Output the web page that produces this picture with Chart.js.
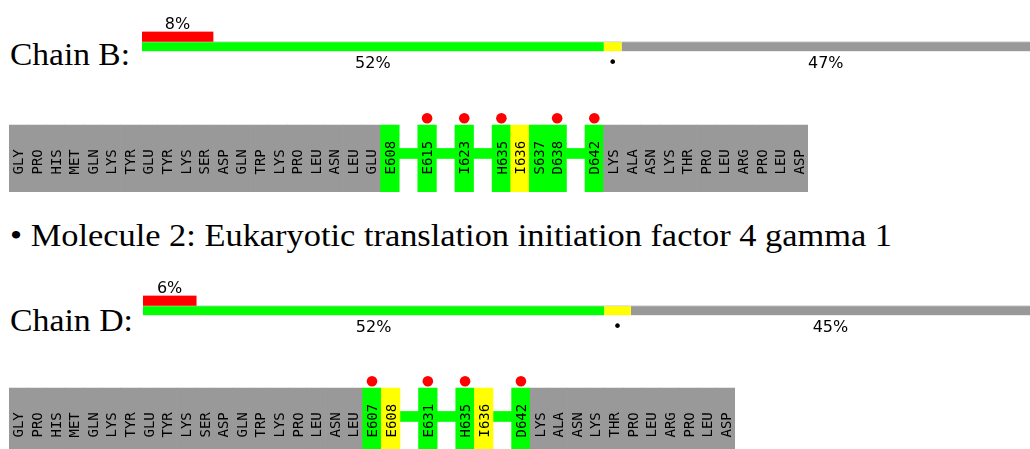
<!DOCTYPE html>
<html>
<head>
<meta charset="utf-8">
<script src="https://cdn.jsdelivr.net/npm/chart.js@4.4.1/dist/chart.umd.min.js"></script>
<style>
  html, body { margin: 0; padding: 0; background: #fff; }
  body { width: 1030px; height: 449px; overflow: hidden; position: relative; }
  canvas { position: absolute; }
  .serif {
    position: absolute; left: 10px; white-space: nowrap;
    font-family: "Liberation Serif", serif; font-size: 31px; line-height: 31px;
    color: #000; transform-origin: 0 0;
  }
</style>
</head>
<body>
<div class="serif" id="labelB" style="top:39px" data-w="120">Chain B:</div>
<canvas id="qualityB" width="888" height="80" style="left:142px; top:0px"></canvas>
<canvas id="stripB" width="799" height="87" style="left:9px; top:105px"></canvas>

<div class="serif" id="molecule2" style="top:220px" data-w="882">&bull; Molecule 2: Eukaryotic translation initiation factor 4 gamma 1</div>

<div class="serif" id="labelD" style="top:305px" data-w="123">Chain D:</div>
<canvas id="qualityD" width="887" height="70" style="left:143px; top:270px"></canvas>
<canvas id="stripD" width="726" height="87" style="left:9px; top:368px"></canvas>

<script>
// ---- data ----
const qualityRows = ["density", "quality"];

// chain B: % of residues with poor fit, then green / yellow / grey bar lengths
const chainBPoorFit = [8];
const chainBPoorFitLabels = ["8%"];
const chainBQuality = [52, 2, 46];
const chainBQualityLabels = ["52%", "\u2022", "47%"];

const chainDPoorFit = [6];
const chainDPoorFitLabels = ["6%"];
const chainDQuality = [52, 3, 45];
const chainDQualityLabels = ["52%", "\u2022", "45%"];

// residue strips, "" = break in the modelled chain
const chainBResidues = [
    "GLY", "PRO", "HIS", "MET", "GLN", "LYS", "TYR", "GLU", "TYR", "LYS",
    "SER", "ASP", "GLN", "TRP", "LYS", "PRO", "LEU", "ASN", "LEU", "GLU",
    "E608", "", "E615", "", "I623", "", "H635", "I636", "S637", "D638",
    "", "D642",
    "LYS", "ALA", "ASN", "LYS", "THR", "PRO", "LEU", "ARG", "PRO", "LEU", "ASP",
];
// u = unmodelled, g = no outliers, y = one outlier
const chainBStatus = [
    "u", "u", "u", "u", "u", "u", "u", "u", "u", "u",
    "u", "u", "u", "u", "u", "u", "u", "u", "u", "u",
    "g", "", "g", "", "g", "", "g", "y", "g", "g",
    "", "g",
    "u", "u", "u", "u", "u", "u", "u", "u", "u", "u", "u",
];
const chainBDensityOutliers = ["E615", "I623", "H635", "D638", "D642"];

const chainDResidues = [
    "GLY", "PRO", "HIS", "MET", "GLN", "LYS", "TYR", "GLU", "TYR", "LYS",
    "SER", "ASP", "GLN", "TRP", "LYS", "PRO", "LEU", "ASN", "LEU",
    "E607", "E608", "", "E631", "", "H635", "I636", "", "D642",
    "LYS", "ALA", "ASN", "LYS", "THR", "PRO", "LEU", "ARG", "PRO", "LEU", "ASP",
];
const chainDStatus = [
    "u", "u", "u", "u", "u", "u", "u", "u", "u", "u",
    "u", "u", "u", "u", "u", "u", "u", "u", "u",
    "g", "y", "", "g", "", "g", "y", "", "g",
    "u", "u", "u", "u", "u", "u", "u", "u", "u", "u", "u",
];
const chainDDensityOutliers = ["E607", "E631", "H635", "D642"];

// ---- styles ----
const RED = "#ff0000";
const GREEN = "#00ff00";
const YELLOW = "#ffff00";
const GREY = "#999999";
const statusColor = { u: GREY, g: GREEN, y: YELLOW };
const linkBand = [0.5, 0.65];
const dotLevel = 1.1;
const stripMax = 87 / 67;

// fit the serif headings to the width they have in the page
document.querySelectorAll(".serif").forEach((el) => {
    const w = el.getBoundingClientRect().width;
    el.style.transform = "scaleX(" + (Number(el.dataset.w) / w) + ")";
});

const pctLabels = {
    id: "pctLabels",
    afterDatasetsDraw(chart) {
        const ctx = chart.ctx;
        ctx.save();
        ctx.font = '16px "DejaVu Sans"';
        ctx.fillStyle = "#000";
        ctx.textAlign = "center";
        chart.data.datasets.forEach((ds, di) => {
            chart.getDatasetMeta(di).data.forEach((bar, i) => {
                if (ds.data[i] == null || !ds.pctText) return;
                const p = bar.getProps(["x", "y", "base", "height"], true);
                const cx = (p.x + p.base) / 2;
                const y = ds.above ? p.y - p.height / 2 - 3 : p.y + p.height / 2 + 16;
                ctx.fillText(ds.pctText, cx, y);
            });
        });
        ctx.restore();
    },
};

function qualityChart(id, poorFit, poorFitLabels, quality, qualityLabels, padTop, padBottom) {
    const colors = [GREEN, YELLOW, GREY];
    const datasets = [
        {
            data: [poorFit[0], null],
            backgroundColor: RED,
            pctText: poorFitLabels[0],
            above: true,
        },
    ];
    quality.forEach((v, i) => {
        datasets.push({
            data: [null, v],
            backgroundColor: colors[i],
            borderColor: "#cccccc",
            borderWidth: { top: 1, left: 0, right: 0, bottom: 0 },
            borderSkipped: false,
            pctText: qualityLabels[i],
        });
    });
    new Chart(document.getElementById(id), {
        type: "bar",
        data: { labels: qualityRows, datasets: datasets },
        options: {
            indexAxis: "y",
            responsive: false,
            animation: false,
            events: [],
            layout: { autoPadding: false, padding: { top: padTop, bottom: padBottom, left: 0, right: 0 } },
            datasets: { bar: { categoryPercentage: 1, barPercentage: 1 } },
            scales: {
                x: { display: false, stacked: true, min: 0, max: 100 },
                y: { display: false, stacked: true },
            },
            plugins: { legend: { display: false }, tooltip: { enabled: false } },
        },
        plugins: [pctLabels],
    });
}

const residueText = {
    id: "residueText",
    afterDatasetsDraw(chart) {
        const ctx = chart.ctx;
        const top = chart.scales.y.getPixelForValue(1);
        const names = chart.data.labels;
        ctx.save();
        ctx.font = '14px "DejaVu Sans Mono"';
        ctx.fillStyle = "#000";
        ctx.textAlign = "left";
        chart.getDatasetMeta(0).data.forEach((bar, i) => {
            if (!names[i]) return;
            ctx.save();
            ctx.translate(bar.x, top + 49.5);
            ctx.rotate(-Math.PI / 2);
            ctx.fillText(names[i], 0, 5.1);
            ctx.restore();
        });
        ctx.restore();
    },
};

function stripChart(id, residues, status, outliers) {
    new Chart(document.getElementById(id), {
        type: "bar",
        data: {
            labels: residues,
            datasets: [
                {
                    data: status.map((s) => (s ? [0, 1] : null)),
                    backgroundColor: status.map((s) => statusColor[s] || GREEN),
                    order: 2,
                },
                {
                    data: status.map((s) => (s ? null : linkBand)),
                    backgroundColor: GREEN,
                    order: 3,
                },
                {
                    type: "line",
                    data: residues.map((r) => (outliers.includes(r) ? dotLevel : null)),
                    showLine: false,
                    pointRadius: 5.3,
                    pointBorderWidth: 0,
                    pointBackgroundColor: RED,
                    clip: false,
                    order: 1,
                },
            ],
        },
        options: {
            responsive: false,
            animation: false,
            events: [],
            layout: { autoPadding: false, padding: 0 },
            datasets: { bar: { categoryPercentage: 1, barPercentage: 1, grouped: false, borderWidth: 0 } },
            scales: {
                x: { display: false, offset: true },
                y: { display: false, min: 0, max: stripMax },
            },
            plugins: { legend: { display: false }, tooltip: { enabled: false } },
        },
        plugins: [residueText],
    });
}

qualityChart("qualityB", chainBPoorFit, chainBPoorFitLabels, chainBQuality, chainBQualityLabels, 31.5, 28.5);
qualityChart("qualityD", chainDPoorFit, chainDPoorFitLabels, chainDQuality, chainDQualityLabels, 25.5, 24.5);
stripChart("stripB", chainBResidues, chainBStatus, chainBDensityOutliers);
stripChart("stripD", chainDResidues, chainDStatus, chainDDensityOutliers);
</script>
</body>
</html>
